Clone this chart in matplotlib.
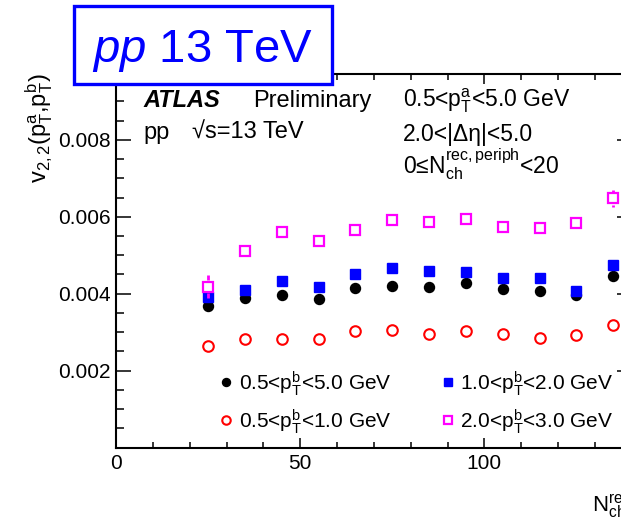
import matplotlib
matplotlib.use("Agg")
import matplotlib.pyplot as plt
from matplotlib.patches import Rectangle
from matplotlib.ticker import MultipleLocator

plt.rcParams["font.family"] = ["Liberation Sans", "DejaVu Sans"]
plt.rcParams["mathtext.fontset"] = "custom"
plt.rcParams["mathtext.rm"] = "Liberation Sans"
plt.rcParams["mathtext.it"] = "Liberation Sans:italic"
plt.rcParams["mathtext.bf"] = "Liberation Sans:bold"

# multiplicity bin centres
nch = [25, 35, 45, 55, 65, 75, 85, 95, 105, 115, 125, 135]

# v22(pTa, pTb) for each pTb selection
v_pb_05_50 = [0.00369, 0.00388, 0.00397, 0.00387, 0.00414, 0.00421,
              0.00417, 0.00428, 0.00413, 0.00406, 0.00397, 0.00445]
v_pb_05_10 = [0.00265, 0.00282, 0.00282, 0.00282, 0.00304, 0.00305,
              0.00296, 0.00302, 0.00296, 0.00284, 0.00293, 0.00319]
v_pb_10_20 = [0.00392, 0.00409, 0.00432, 0.00417, 0.00452, 0.00467,
              0.00460, 0.00456, 0.00440, 0.00442, 0.00406, 0.00475]
v_pb_20_30 = [0.00418, 0.00512, 0.00561, 0.00536, 0.00565, 0.00591,
              0.00587, 0.00595, 0.00573, 0.00572, 0.00585, 0.00648]

# statistical uncertainties
e_pb_05_50 = [0.00004] * 12
e_pb_05_10 = [0.00004] * 12
e_pb_10_20 = [0.00005] * 12
e_pb_20_30 = [0.00030, 0.00012, 0.00008, 0.00008, 0.00008, 0.00008,
              0.00008, 0.00008, 0.00008, 0.00008, 0.00008, 0.00022]

labels = [r"0.5<p$_{\mathrm{T}}^{\mathrm{b}}$<5.0 GeV",
          r"0.5<p$_{\mathrm{T}}^{\mathrm{b}}$<1.0 GeV",
          r"1.0<p$_{\mathrm{T}}^{\mathrm{b}}$<2.0 GeV",
          r"2.0<p$_{\mathrm{T}}^{\mathrm{b}}$<3.0 GeV"]

yticks = [0.002, 0.004, 0.006, 0.008]
xticks = [0, 50, 100]

W, H = 621, 524
fig = plt.figure(figsize=(W / 100, H / 100), dpi=100)
ax = fig.add_axes([116 / W, 76.5 / H, 515.7 / W, 373 / H])
ax.set_xlim(0, 140)
ax.set_ylim(0, 0.0097)

styles = [
    dict(color="black", marker="o", mfc="black", ms=7.2, mew=1.0),
    dict(color="red", marker="o", mfc="none", ms=7.6, mew=1.5),
    dict(color="blue", marker="s", mfc="blue", ms=7.2, mew=1.0),
    dict(color="magenta", marker="s", mfc="none", ms=7.8, mew=1.6),
]
series = [v_pb_05_50, v_pb_05_10, v_pb_10_20, v_pb_20_30]
errors = [e_pb_05_50, e_pb_05_10, e_pb_10_20, e_pb_20_30]
order_z = [3, 3, 4, 5]

# data units per pixel on the y axis, used to start error bars at marker edges
p0 = ax.transData.transform((0, 0.0))[1]
p1 = ax.transData.transform((0, 0.001))[1]
units_per_px = 0.001 / (p1 - p0)

handles = []
for vals, errs, st, z, lab in zip(series, errors, styles, order_z, labels):
    half = (st["ms"] + st["mew"]) * fig.dpi / 72 / 2 * units_per_px
    for xv, yv, ev in zip(nch, vals, errs):
        if ev > half:
            ax.vlines([xv, xv], [yv + half, yv - ev], [yv + ev, yv - half],
                      color=st["color"], linewidth=2.0, zorder=z)
    h, = ax.plot(nch, vals, linestyle="none", marker=st["marker"],
                 color=st["color"], mfc=st["mfc"], mec=st["color"],
                 ms=st["ms"], mew=st["mew"], zorder=z, label=lab)
    handles.append(h)

# axes frame and ticks
for sp in ax.spines.values():
    sp.set_linewidth(1.5)
ax.set_xticks(xticks)
ax.set_xticklabels([str(t) for t in xticks])
ax.xaxis.set_minor_locator(MultipleLocator(10))
ax.set_yticks(yticks)
ax.set_yticklabels([f"{t:.3f}" for t in yticks])
ax.yaxis.set_minor_locator(MultipleLocator(0.0005))
ax.tick_params(which="both", direction="in", top=True, right=True,
               width=1.1, labelsize=15)
ax.tick_params(axis="y", which="major", length=11, pad=4)
ax.tick_params(axis="y", which="minor", length=6)
ax.tick_params(axis="x", which="major", length=7.5, pad=5)
ax.tick_params(axis="x", which="minor", length=4)

ax.set_ylabel(r"v$_{2,2}$(p$_{\mathrm{T}}^{\mathrm{a}}$,p$_{\mathrm{T}}^{\mathrm{b}}$)",
              fontsize=17, loc="top")
ax.yaxis.set_label_coords(-0.118, 1.003)
ax.set_xlabel(r"N$_{\mathrm{ch}}^{\mathrm{rec}}$", fontsize=16, loc="right")
ax.xaxis.set_label_coords(1.0, -0.12)

# legend
leg = ax.legend(handles=[handles[0], handles[1], handles[2], handles[3]],
                ncol=2, frameon=False, fontsize=15, loc="upper left",
                bbox_to_anchor=(218 / W, 1 - 369 / H),
                bbox_transform=fig.transFigure, borderpad=0, borderaxespad=0,
                handlelength=0.8, handletextpad=0.2, columnspacing=2.3,
                labelspacing=0.45, markerscale=0.8)

# annotations
def ftxt(x, y, s, **kw):
    fig.text(x / W, 1 - y / H, s, va="baseline", ha="left", **kw)

ftxt(143, 106.7, "ATLAS", fontsize=17, fontweight="bold", fontstyle="italic")
ftxt(253, 106.7, "Preliminary", fontsize=17)
ftxt(143, 139, "pp", fontsize=17)
ftxt(192, 139, "\u221as=13 TeV", fontsize=17)
ftxt(403, 106.7, r"0.5<p$_{\mathrm{T}}^{\mathrm{a}}$<5.0 GeV", fontsize=16.5)
ftxt(403, 140.7, "2.0<|\u0394\u03b7|<5.0", fontsize=16.5)
ftxt(403, 173.3, "0\u2264N$_{\\mathrm{ch}}^{\\mathrm{rec,periph}}$<20", fontsize=16.5)

# collision-system banner
fig.add_artist(Rectangle((74 / W, 1 - 83.5 / H), 258 / W, 78 / H,
                         transform=fig.transFigure, facecolor="white",
                         edgecolor="blue", linewidth=2.4, zorder=10))
fig.text(202 / W, 1 - 61.7 / H, r"$\mathit{pp}$ 13 TeV", fontsize=34,
         color="blue", ha="center", va="baseline", zorder=11)

fig.savefig("out.png", dpi=100)
